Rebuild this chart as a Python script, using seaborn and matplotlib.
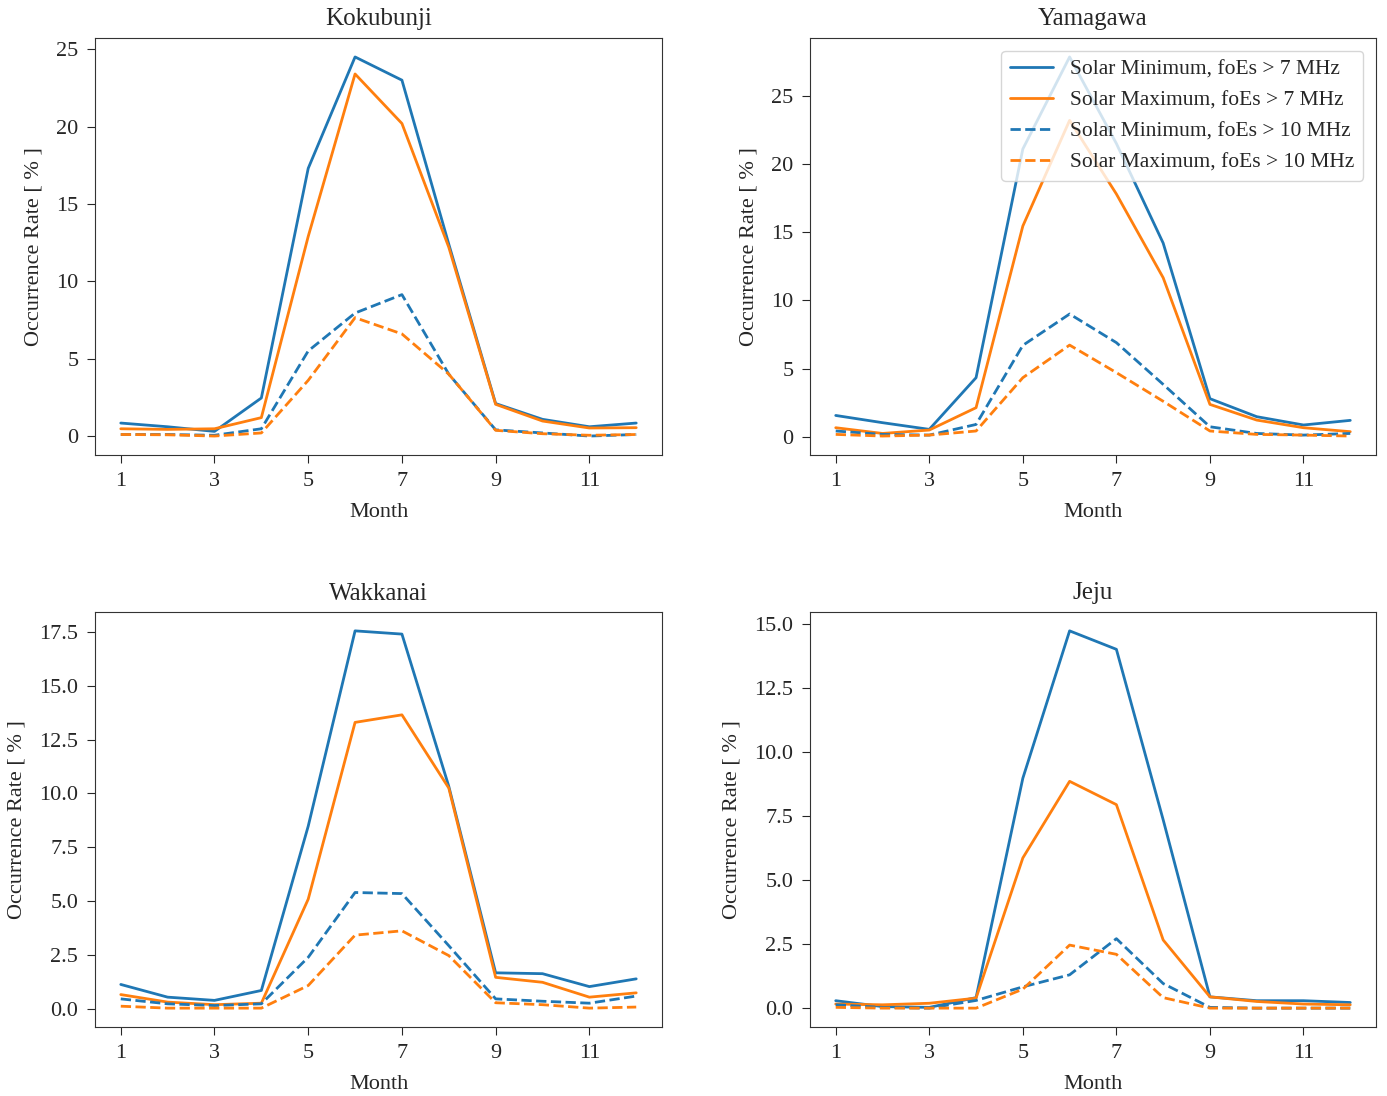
import matplotlib
matplotlib.use("Agg")
import matplotlib.pyplot as plt
from matplotlib.ticker import MultipleLocator, FormatStrFormatter
import seaborn as sns
import pandas as pd

months = list(range(1, 13))
stations = ["Kokubunji", "Yamagawa", "Wakkanai", "Jeju"]
series_labels = ["Solar Minimum, foEs > 7 MHz", "Solar Maximum, foEs > 7 MHz",
                 "Solar Minimum, foEs > 10 MHz", "Solar Maximum, foEs > 10 MHz"]

kokubunji_min7 = [0.84, 0.6, 0.3, 2.46, 17.3, 24.5, 23.0, 12.4, 2.1, 1.08, 0.6, 0.84]
kokubunji_max7 = [0.47, 0.43, 0.47, 1.19, 12.9, 23.4, 20.2, 12.2, 2.05, 0.97, 0.52, 0.54]
kokubunji_min10 = [0.1, 0.1, 0.05, 0.47, 5.5, 7.95, 9.14, 4.0, 0.4, 0.2, 0.0, 0.1]
kokubunji_max10 = [0.1, 0.08, 0.0, 0.2, 3.6, 7.65, 6.6, 4.0, 0.37, 0.15, 0.05, 0.1]

yamagawa_min7 = [1.56, 1.03, 0.54, 4.33, 21.1, 27.85, 21.5, 14.2, 2.79, 1.47, 0.86, 1.2]
yamagawa_max7 = [0.66, 0.24, 0.49, 2.13, 15.45, 23.2, 17.8, 11.66, 2.37, 1.22, 0.66, 0.37]
yamagawa_min10 = [0.42, 0.17, 0.12, 0.9, 6.7, 9.0, 6.9, 3.84, 0.73, 0.24, 0.12, 0.24]
yamagawa_max10 = [0.17, 0.05, 0.12, 0.42, 4.33, 6.72, 4.7, 2.6, 0.42, 0.17, 0.12, 0.05]

wakkanai_min7 = [1.13, 0.54, 0.39, 0.85, 8.48, 17.55, 17.4, 10.33, 1.67, 1.63, 1.03, 1.39]
wakkanai_max7 = [0.66, 0.31, 0.19, 0.26, 5.09, 13.3, 13.65, 10.25, 1.46, 1.23, 0.54, 0.74]
wakkanai_min10 = [0.46, 0.23, 0.15, 0.23, 2.39, 5.4, 5.35, 2.93, 0.46, 0.35, 0.26, 0.59]
wakkanai_max10 = [0.12, 0.03, 0.03, 0.03, 1.08, 3.42, 3.62, 2.47, 0.28, 0.19, 0.03, 0.08]

jeju_min7 = [0.29, 0.06, 0.03, 0.41, 8.97, 14.72, 14.0, 7.35, 0.44, 0.29, 0.29, 0.22]
jeju_max7 = [0.16, 0.13, 0.19, 0.39, 5.86, 8.85, 7.94, 2.66, 0.44, 0.26, 0.16, 0.13]
jeju_min10 = [0.13, 0.03, 0.0, 0.3, 0.83, 1.3, 2.71, 0.96, 0.03, 0.0, 0.0, 0.0]
jeju_max10 = [0.03, 0.0, 0.0, 0.0, 0.74, 2.46, 2.1, 0.41, 0.0, 0.0, 0.0, 0.0]

data = {
    "Kokubunji": [kokubunji_min7, kokubunji_max7, kokubunji_min10, kokubunji_max10],
    "Yamagawa": [yamagawa_min7, yamagawa_max7, yamagawa_min10, yamagawa_max10],
    "Wakkanai": [wakkanai_min7, wakkanai_max7, wakkanai_min10, wakkanai_max10],
    "Jeju": [jeju_min7, jeju_max7, jeju_min10, jeju_max10],
}

xticks = [1, 3, 5, 7, 9, 11]
ytick_steps = {"Kokubunji": 5, "Yamagawa": 5, "Wakkanai": 2.5, "Jeju": 2.5}

sns.set_style("ticks")
plt.rcParams["font.family"] = ["Liberation Serif", "DejaVu Serif"]
plt.rcParams["axes.edgecolor"] = "#333333"

colors = ["#1f77b4", "#ff7f0e", "#1f77b4", "#ff7f0e"]
styles = ["-", "-", "--", "--"]

fig = plt.figure(figsize=(13.87, 10.96), dpi=100)
W, H = 1387, 1096
rects = {
    "Kokubunji": (95, 38, 662, 455),
    "Yamagawa": (810, 38, 1376, 455),
    "Wakkanai": (95, 612, 662, 1027),
    "Jeju": (810, 612, 1376, 1027),
}

for st in stations:
    l, t, r, b = rects[st]
    ax = fig.add_axes([l / W, 1 - b / H, (r - l) / W, (b - t) / H])
    for i, vals in enumerate(data[st]):
        df = pd.DataFrame({"Month": months, "Rate": vals})
        sns.lineplot(data=df, x="Month", y="Rate", ax=ax, color=colors[i],
                     linestyle=styles[i], linewidth=2.0, label=series_labels[i])
    ax.set_title(st, fontsize=18, pad=9)
    ax.set_xlabel("Month", fontsize=16, labelpad=9)
    ax.set_ylabel("Occurrence Rate [ % ]", fontsize=16, labelpad=9)
    ax.set_xticks(xticks)
    step = ytick_steps[st]
    ax.yaxis.set_major_locator(MultipleLocator(step))
    if step == 2.5:
        ax.yaxis.set_major_formatter(FormatStrFormatter("%.1f"))
    ax.tick_params(labelsize=16, length=6, pad=6)
    ax.margins(x=0.05, y=0.05)
    if st == "Yamagawa":
        ax.legend(loc="upper right", fontsize=15.5, framealpha=0.8,
                  borderaxespad=0.6)
    else:
        ax.get_legend().remove()

fig.savefig("out.png", dpi=100)
